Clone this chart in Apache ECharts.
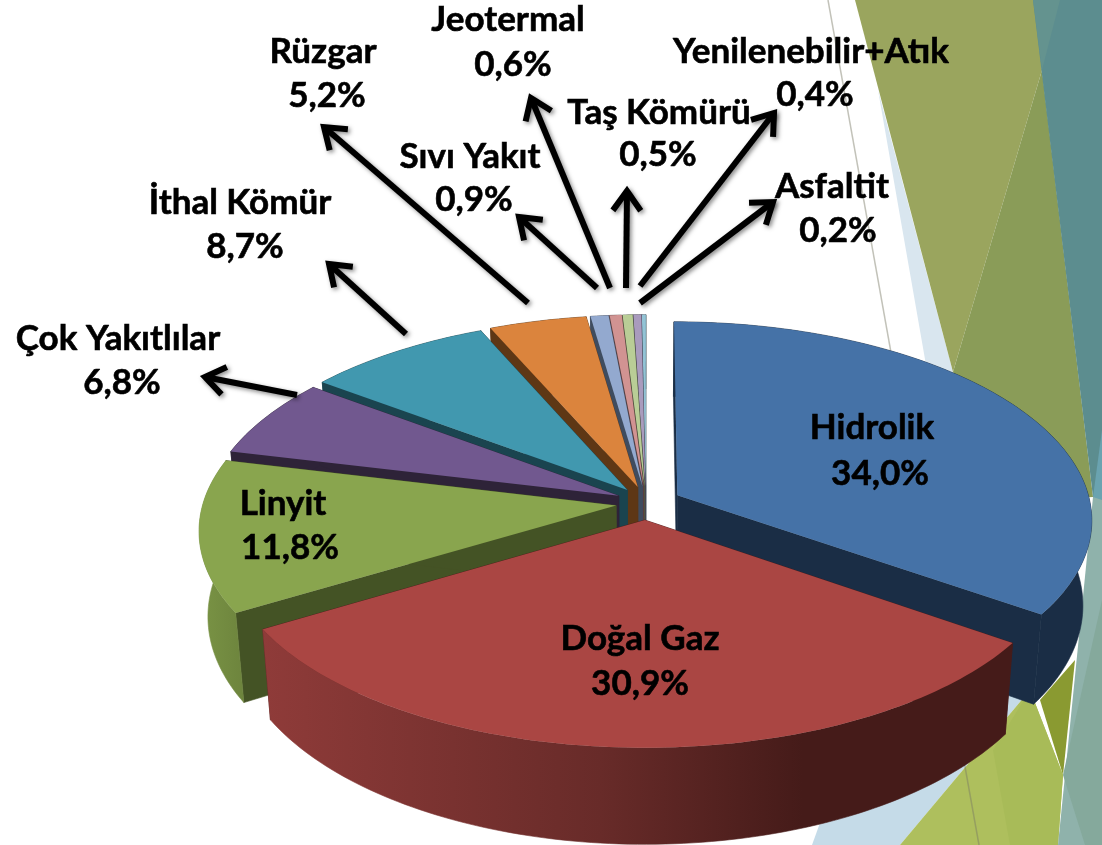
<!DOCTYPE html>
<html>
<head>
<meta charset="utf-8">
<title>Kurulu güç dağılımı</title>
<script src="https://cdn.jsdelivr.net/npm/echarts@6/dist/echarts.min.js"></script>
<style>
html,body{margin:0;padding:0;background:#fff;overflow:hidden;}
#chart{width:1102px;height:845px;}
</style>
</head>
<body>
<div id="chart"></div>
<script>
//veriler
var categories = ['Hidrolik','Doğal Gaz','Linyit','Çok Yakıtlılar','İthal Kömür','Rüzgar','Sıvı Yakıt','Jeotermal','Taş Kömürü','Yenilenebilir+Atık','Asfaltit'];
var values = [34.0,30.9,11.8,6.8,8.7,5.2,0.9,0.6,0.5,0.4,0.2];

//dilim renkleri
var topColors = ['#4572a7','#aa4643','#89a54e','#71588f','#4198af','#db843d','#93a9cf','#d19392','#b9cd96','#a99bbd','#92c3d5'];
var cutColors = ['#1a2d45','#451b19','#445325','#2e2338','#1a444f','#5e3715','#3f4c5f','#5a3f3f','#4f5a3f','#463f52','#3f5560'];

//etiket konumlari: ad x,y ve yuzde x,y
var labelAnchors = [[872,428,880,474],[640,639,640,684],[283,504,290,548],[118,339,122,383],[240,203,245,247],[323,52,327,96],[470,157,474,200],[508,20,513,65],[659,113,658,155],[811,52,815,95],[832,187,838,231]];
//ok baslangic ve ucu, ilk ucunde ok yok
var arrowLines = [null,null,null,[297,395,205,377],[406,334,329,264],[528,303,324,127],[597,288,519,217],[610,288,531,98],[626,288,627,191],[640,286,774,113],[640,303,773,202]];
//arka plan sekilleri
var backShapes = [
    {fill:'#d9e6ef',points:[[878,90],[926,365],[960,380],[953,372]]},
    {fill:'#c5dbe8',points:[[812,845],[850,740],[1030,690],[900,845]]},
    {fill:'#9aa55e',points:[[855,0],[1034,0],[1042,70],[953,372]]},
    {fill:'#8a9c58',points:[[1042,70],[1093,497],[1030,500],[953,372]]},
    {fill:'#5c8d8f',points:[[1033,0],[1102,0],[1102,520],[1093,497]]},
    {fill:'#64938f',points:[[1033,0],[1060,0],[1042,70]]},
    {fill:'#6aa3b0',points:[[1102,430],[1093,497],[1102,520]]},
    {fill:'#8a9a31',points:[[1075,660],[1040,700],[1063,775]]},
    {fill:'#aebf5d',points:[[900,845],[1030,690],[1063,775],[1058,845]]},
    {fill:'#a8bb58',points:[[993,750],[1030,690],[1063,775],[1058,845],[1010,845]]},
    {fill:'#8fb2ab',points:[[1093,497],[1102,500],[1102,845],[1058,845]]},
    {fill:'#85a99c',points:[[1063,775],[1102,600],[1102,845],[1085,845]]}
];

//pasta geometrisi
var geo = {cx:646,cy:503,rx:413,ry:196,persp:0.12,explode:0.086,explodeLeft:0.85,depth:84,taper:0.98};
//3B egim nedeniyle aci kaymasi (derece)
var skewKnots = [[0,0],[122,2.5],[233,5.5],[276,7.5],[300,6.2],[332,4.4],[350,1.2],[360,0]];

var total = 0, starts = [];
for(var i=0;i<values.length;i++){
    starts.push(total);
    total += values[i];
}
//boyama sirasi: arkadan one
var paintOrder = [10,9,8,7,6,5,4,3,2,0,1];

function warp(t){
    var d = t*180/Math.PI;
    for(var k=1;k<skewKnots.length;k++){
        if(d<=skewKnots[k][0]){
            var a = skewKnots[k-1], b = skewKnots[k];
            return (d+a[1]+(b[1]-a[1])*(d-a[0])/(b[0]-a[0]))*Math.PI/180;
        }
    }
    return t;
}
function project(X,Y){
    var w = 1/(1-geo.persp*Y);
    return [geo.cx+geo.rx*X*w, geo.cy+geo.ry*Y*w, w];
}
function lower(p){
    return [geo.cx+(p[0]-geo.cx)*geo.taper, p[1]+geo.depth*p[2]];
}
function buildSlice(idx){
    var a0 = warp(starts[idx]/total*Math.PI*2);
    var a1 = warp((starts[idx]+values[idx])/total*Math.PI*2);
    var mid = (a0+a1)/2;
    var ox = geo.explode*Math.sin(mid), oy = -geo.explode*Math.cos(mid);
    if(ox<0){
        ox *= geo.explodeLeft;
    }
    var apex = project(ox,oy), arc = [], steps = Math.max(3,Math.ceil((a1-a0)/0.02));
    for(var s=0;s<=steps;s++){
        var a = a0+(a1-a0)*s/steps;
        arc.push(project(ox+Math.sin(a),oy-Math.cos(a)));
    }
    return {apex:apex,arc:arc};
}
function xy(p){ return [p[0],p[1]]; }
function wallFill(idx){
    if(idx===1){
        return new echarts.graphic.LinearGradient(0,0,1,0,[
            {offset:0,color:'#8f3b39'},{offset:0.45,color:'#682b29'},{offset:0.72,color:'#451b19'},{offset:1,color:'#451b19'}
        ]);
    }
    if(idx===2){
        return new echarts.graphic.LinearGradient(0,0,1,0,[{offset:0,color:'#7a9445'},{offset:1,color:'#6d843d'}]);
    }
    return cutColors[idx];
}
function renderSlice(params,api){
    var idx = api.value(0);
    var sl = buildSlice(idx), arc = sl.arc, apex = sl.apex, kids = [];
    var outer = arc.map(xy), back = arc.map(lower).reverse();
    var first = arc[0], last = arc[arc.length-1];
    //once kesit duvarlari, sonra dis duvar, en son ust yuz
    [first,last].forEach(function(p){
        kids.push({type:'polygon',shape:{points:[xy(apex),xy(p),lower(p),lower(apex)]},style:{fill:cutColors[idx],stroke:cutColors[idx],lineWidth:0.6}});
    });
    kids.push({type:'polygon',shape:{points:outer.concat(back)},style:{fill:wallFill(idx),stroke:wallFill(idx),lineWidth:0.6}});
    kids.push({type:'polygon',shape:{points:[xy(apex)].concat(outer)},style:{fill:topColors[idx]}});
    return {type:'group',children:kids};
}
function renderLabel(params,api){
    var idx = api.value(0), a = labelAnchors[idx], kids = [];
    var font = 'bold 35px Lato, "Open Sans", sans-serif';
    var pct = values[idx].toFixed(1).replace('.',',')+'%';
    kids.push({type:'text',style:{x:a[0],y:a[1],text:categories[idx],font:font,fill:'#000',stroke:'#000',lineWidth:0.6,align:'center',verticalAlign:'middle'}});
    kids.push({type:'text',style:{x:a[2],y:a[3],text:pct,font:font,fill:'#000',stroke:'#000',lineWidth:0.6,align:'center',verticalAlign:'middle'}});
    var ln = arrowLines[idx];
    if(ln){
        var ang = Math.atan2(ln[3]-ln[1],ln[2]-ln[0]), hl = 24, spread = 0.62;
        var head = [
            [ln[2]-hl*Math.cos(ang-spread),ln[3]-hl*Math.sin(ang-spread)],
            [ln[2],ln[3]],
            [ln[2]-hl*Math.cos(ang+spread),ln[3]-hl*Math.sin(ang+spread)]
        ];
        var arrowStyle = {stroke:'#000',lineWidth:6,fill:null,shadowBlur:4,shadowColor:'rgba(0,0,0,0.45)',shadowOffsetX:2,shadowOffsetY:2};
        kids.push({type:'line',shape:{x1:ln[0],y1:ln[1],x2:ln[2],y2:ln[3]},style:arrowStyle});
        kids.push({type:'polyline',shape:{points:head},style:arrowStyle});
    }
    return {type:'group',children:kids};
}

var myChart = echarts.init(document.getElementById('chart'),null,{renderer:'canvas'});
var decor = backShapes.map(function(b){
    return {type:'polygon',silent:true,z:0,shape:{points:b.points},style:{fill:b.fill}};
});
decor.push({type:'line',silent:true,z:0,shape:{x1:828,y1:0,x2:979,y2:845},style:{stroke:'rgba(120,120,100,0.45)',lineWidth:1.5}});
var option = {
    backgroundColor:'#ffffff',
    animation:false,
    graphic:{elements:decor},
    series:[
        {
            type:'custom',
            coordinateSystem:'none',
            z:2,
            silent:true,
            renderItem:renderSlice,
            data:paintOrder.map(function(i){ return [i,values[i]]; })
        },
        {
            type:'custom',
            coordinateSystem:'none',
            z:3,
            silent:true,
            renderItem:renderLabel,
            data:categories.map(function(c,i){ return [i,values[i]]; })
        }
    ]
};
myChart.setOption(option);
</script>
</body>
</html>
